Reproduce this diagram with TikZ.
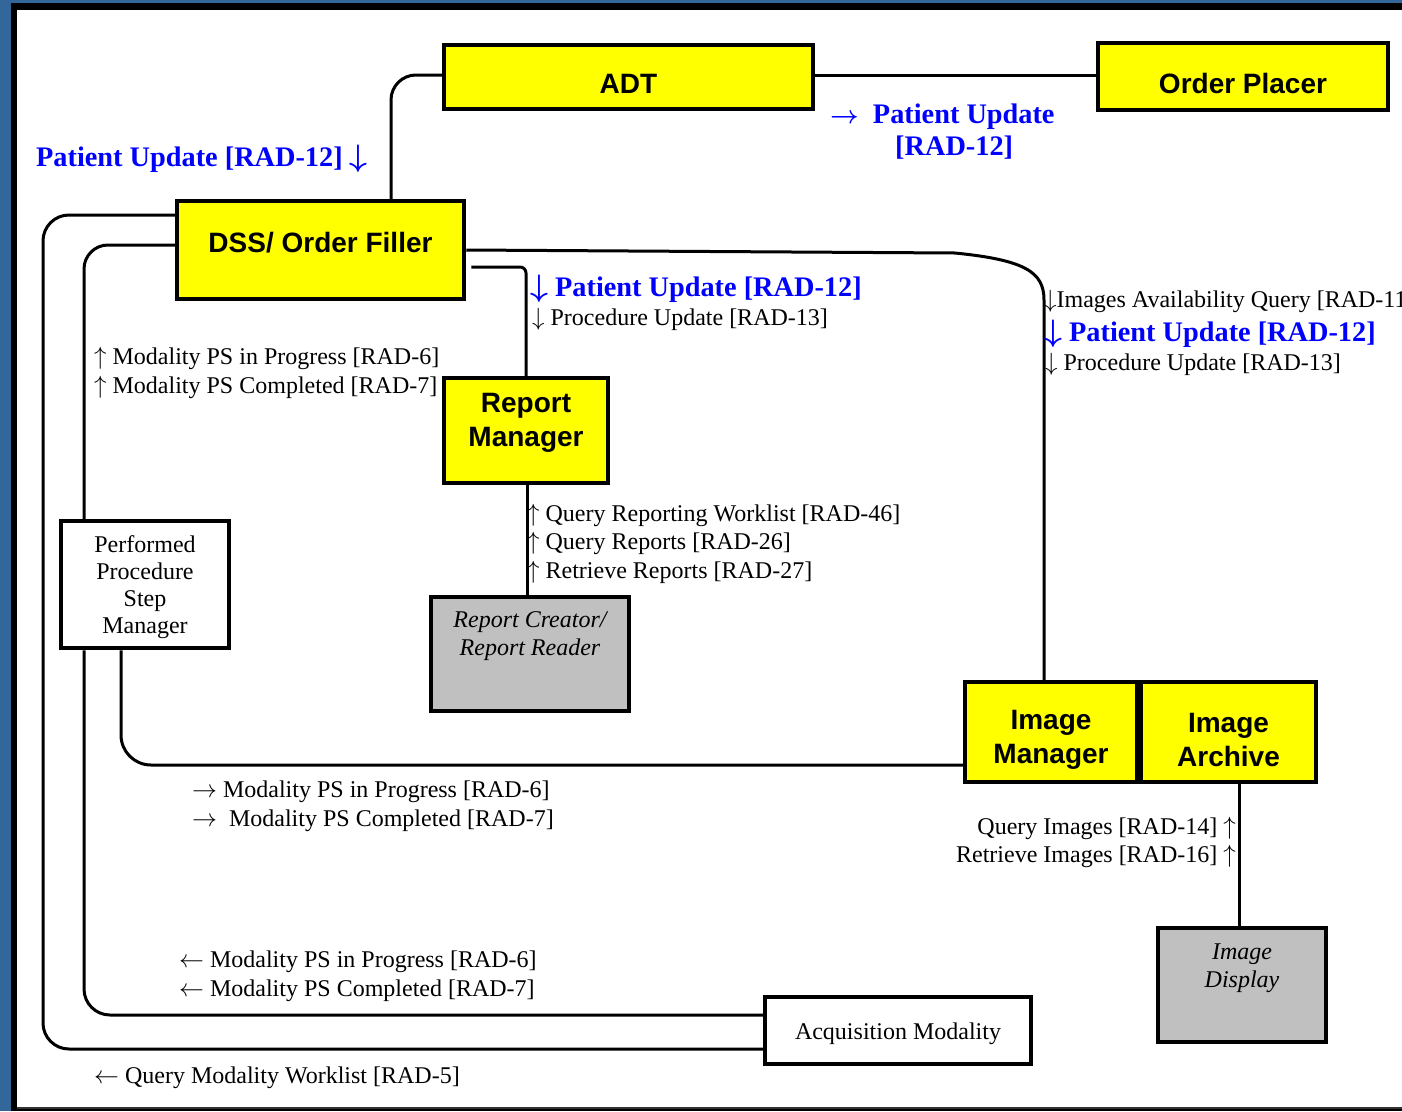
\documentclass[tikz,border=0pt]{standalone}
\usepackage{fontspec}
\setmainfont{Liberation Serif}
\setsansfont{Liberation Sans}
\definecolor{bgblue}{RGB}{51,102,153}
\definecolor{boxyellow}{RGB}{255,255,0}
\definecolor{boxgray}{RGB}{192,192,192}
\definecolor{lblblue}{RGB}{0,0,255}
\tikzset{
  ybox/.style={draw=black, line width=4.5pt, fill=boxyellow, inner sep=0pt},
  gbox/.style={draw=black, line width=4.5pt, fill=boxgray, inner sep=0pt},
  wbox/.style={draw=black, line width=4.5pt, fill=white, inner sep=0pt},
  conn/.style={draw=black, line width=3pt},
  sanslab/.style={font=\sffamily\bfseries\fontsize{28}{34}\selectfont, align=center, inner sep=0pt},
  seriflab/.style={font=\fontsize{24}{27}\selectfont, align=center, inner sep=0pt},
  itlab/.style={font=\itshape\fontsize{24}{28}\selectfont, align=center, inner sep=0pt},
  msg/.style={font=\fontsize{24}{29}\selectfont, inner sep=0pt, anchor=base west},
  msgr/.style={font=\fontsize{24}{29}\selectfont, inner sep=0pt, anchor=base east},
  bmsg/.style={font=\bfseries\boldmath\fontsize{28.3}{32}\selectfont, text=lblblue, inner sep=0pt, anchor=base west},
}
\newcommand{\bdown}{\scalebox{1.25}{$\downarrow$}}
\begin{document}
\begin{tikzpicture}[x=1pt,y=-1pt]
\useasboundingbox (0,0) rectangle (1402,1111);
\clip (0,0) rectangle (1402,1111);
% frame
\fill[bgblue] (0,0) rectangle (1402,1111);
\fill[black] (11,3) rectangle (1402,1111);
\fill[white] (17,10) rectangle (1402,1107);
\draw[line width=2pt, black!80] (17,1108) -- (1402,1108);

% boxes
\node[ybox, minimum width=369pt, minimum height=64pt] (adt) at (628.5,77) {};
\node[sanslab] (adtt) at (628.5,84) {ADT};
\node[ybox, minimum width=290pt, minimum height=67pt] (op) at (1243,76.5) {};
\node[sanslab] (opt) at (1243,83) {Order Placer};
\node[ybox, minimum width=287pt, minimum height=98pt] (dss) at (320.5,250) {};
\node[sanslab] (dsst) at (320.5,243) {DSS/ Order Filler};
\node[ybox, minimum width=164pt, minimum height=105pt] (rm) at (526,430.5) {};
\node[sanslab] (rmt) at (526,423) {Report\\Manager};
\node[gbox, minimum width=198pt, minimum height=114pt] (rc) at (530,654) {};
\node[itlab] (rct) at (530,636) {Report Creator/\\Report Reader};
\node[wbox, minimum width=168pt, minimum height=127pt] (ppsm) at (145,584.5) {};
\node[seriflab] (ppsmt) at (145,587) {Performed\\Procedure\\Step\\Manager};
\node[ybox, minimum width=172pt, minimum height=100pt] (imgm) at (1051,732) {};
\node[sanslab] (imgmt) at (1051,740) {Image\\Manager};
\node[ybox, minimum width=175pt, minimum height=100pt] (ia) at (1228.5,732) {};
\node[sanslab] (iat) at (1228.5,740) {Image\\Archive};
\node[gbox, minimum width=168pt, minimum height=114pt] (id) at (1242,985) {};
\node[itlab] (idt) at (1242,968) {Image\\Display};
\node[wbox, minimum width=266pt, minimum height=67pt] (acq) at (898,1030.5) {};
\node[seriflab] (acqt) at (898,1034) {Acquisition Modality};

% connectors
\draw[conn, rounded corners=25pt] ([yshift=2pt]adt.west) -- (391,75) -- (dss.north -| 391,0);
\draw[conn] ([yshift=2pt]adt.east) -- ([yshift=1.5pt]op.west);
\draw[conn] (dss.east) -- (955,253) .. controls (1025,260) and (1044,272) .. (1044,300) -- (imgm.north -| 1044,0);
\draw[conn, rounded corners=6pt] ([yshift=-17pt,xshift=5pt]dss.east) -- (526,267) -- (rm.north -| 526,0);
\draw[conn] (rm.south -| 527,0) -- (rc.north -| 527,0);
\draw[conn, rounded corners=26pt] ([yshift=35pt]dss.west) -- (43,215) -- (43,1049) -- ([yshift=-18.5pt]acq.west);
\draw[conn, rounded corners=24pt] ([yshift=5pt]dss.west) -- (84,245) -- (ppsm.north -| 84,0);
\draw[conn, rounded corners=26pt] (ppsm.south -| 84,0) -- (84,1015) -- ([yshift=15.5pt]acq.west);
\draw[conn, rounded corners=30pt] (ppsm.south -| 121,0) -- (121,765) -- ([yshift=-33pt]imgm.west);
\draw[conn] (ia.south -| 1239,0) -- (id.north -| 1239,0);

% labels
\node[bmsg] (l1) at (36,166) {Patient Update [RAD-12] \bdown};
\node[bmsg] (l2a) at (830,123) {$\rightarrow$\ \ Patient Update};
\node[bmsg] (l2b) at (895,155) {[RAD-12]};
\node[bmsg] (l3) at (530,296) {\bdown\ Patient Update [RAD-12]};
\node[msg] (l4) at (532,325) {$\downarrow$ Procedure Update [RAD-13]};
\node[msg] (l5) at (1044,307) {$\downarrow$Images Availability Query [RAD-11]};
\node[bmsg] (l6) at (1044,341) {\bdown\ Patient Update [RAD-12]};
\node[msg] (l7) at (1045,370) {$\downarrow$ Procedure Update [RAD-13]};
\node[msg] (l8a) at (94,364) {$\uparrow$ Modality PS in Progress [RAD-6]};
\node[msg] (l8b) at (94,393) {$\uparrow$ Modality PS Completed [RAD-7]};
\node[msg] (l9a) at (527,521) {$\uparrow$ Query Reporting Worklist [RAD-46]};
\node[msg] (l9b) at (527,549) {$\uparrow$ Query Reports [RAD-26]};
\node[msg] (l9c) at (527,578) {$\uparrow$ Retrieve Reports [RAD-27]};
\node[msg] (l10a) at (192,797) {$\rightarrow$ Modality PS in Progress [RAD-6]};
\node[msg] (l10b) at (192,826) {$\rightarrow$\ \ Modality PS Completed [RAD-7]};
\node[msgr] (l11a) at (1236,834) {Query Images [RAD-14] $\uparrow$};
\node[msgr] (l11b) at (1236,862) {Retrieve Images [RAD-16] $\uparrow$};
\node[msg] (l12a) at (179,967) {$\leftarrow$ Modality PS in Progress [RAD-6]};
\node[msg] (l12b) at (179,996) {$\leftarrow$ Modality PS Completed [RAD-7]};
\node[msg] (l13) at (94,1083) {$\leftarrow$ Query Modality Worklist [RAD-5]};
\end{tikzpicture}
\end{document}
